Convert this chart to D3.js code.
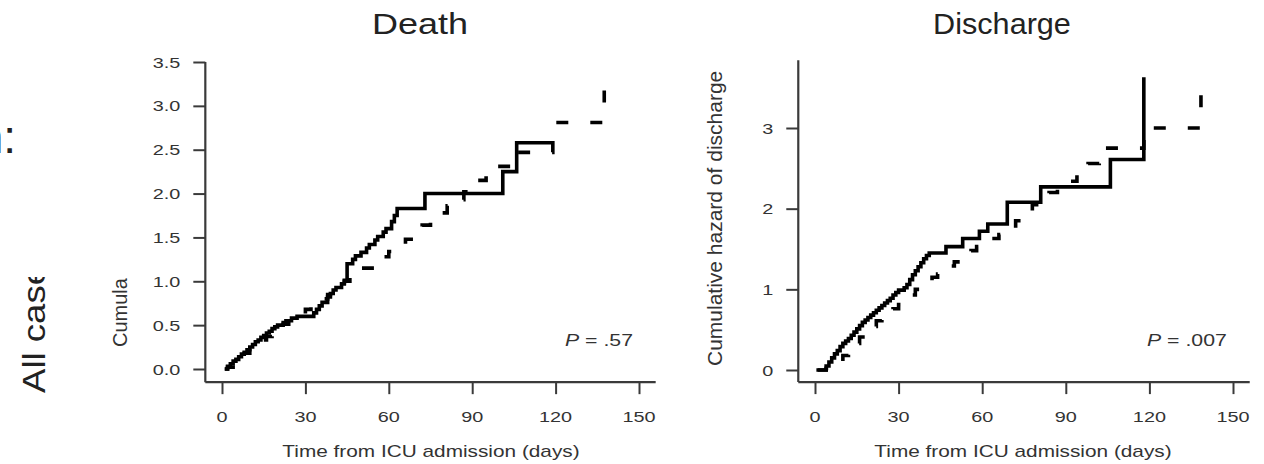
<!DOCTYPE html>
<html>
<head>
<meta charset="utf-8">
<script src="https://cdn.jsdelivr.net/npm/d3@7/dist/d3.min.js"></script>
<style>
  body { margin: 0; background: #fff; }
  svg { display: block; }
  text { font-family: "Liberation Sans", Arial, Helvetica, sans-serif; }
</style>
</head>
<body>
<svg id="chart" width="1264" height="464"></svg>
<script>
// Cumulative hazard step estimates, time in days from ICU admission.
// Death — solid group
const deathSolidTime = [1,2,3,4,5,6,7,8,9,10,11,12,13,14,15,16,17,18,19,20,22,23,25,27,33,34,35,36,38,39,40,41,43,44,45,47,48,50,52,53,55,56,58,59,61,62,63,73,101,106];
const deathSolidHaz  = [0,0.03,0.06,0.09,0.11,0.14,0.17,0.19,0.22,0.25,0.28,0.31,0.33,0.36,0.38,0.41,0.43,0.46,0.48,0.50,0.53,0.55,0.58,0.60,0.64,0.68,0.72,0.76,0.82,0.86,0.90,0.93,0.97,1.01,1.20,1.25,1.29,1.33,1.38,1.42,1.47,1.51,1.56,1.60,1.68,1.75,1.83,2.00,2.25,2.58];
const deathSolidEnd = 118.6;
// Death — dashed group
const deathDashTime = [1,2,4,6,8,10,12,14,16,18,20,22,24,26,28,30,32,34,36,38,40,42,44,46,48,51,54,57,60,63,66,69,72,75,78,81,84,87,91,95,99,103,106,119,137.5];
const deathDashHaz  = [0,0.02,0.07,0.12,0.18,0.23,0.28,0.33,0.37,0.42,0.47,0.51,0.55,0.59,0.63,0.68,0.72,0.75,0.80,0.85,0.90,0.95,1.00,1.05,1.10,1.15,1.22,1.28,1.34,1.40,1.48,1.57,1.64,1.71,1.78,1.86,1.93,2.02,2.15,2.22,2.31,2.38,2.47,2.81,3.20];
const deathDashEnd = 138;
// Discharge — solid group
const dischSolidTime = [0.5,4,5,6,7,8,9,10,11,12,13,14,15,16,17,18,19,20,21,22,23,24,25,26,27,28,29,30,32,33,34,35,36,37,38,39,40,41,47,53,59,62,69,81,106,118];
const dischSolidHaz  = [0,0.05,0.10,0.15,0.20,0.24,0.29,0.33,0.36,0.39,0.43,0.47,0.51,0.55,0.59,0.62,0.65,0.68,0.71,0.74,0.77,0.80,0.83,0.86,0.89,0.93,0.96,0.99,1.02,1.06,1.12,1.18,1.23,1.28,1.33,1.38,1.42,1.45,1.53,1.63,1.72,1.81,2.08,2.27,2.61,3.63];
const dischSolidEnd = 118;
// Discharge — dashed group
const dischDashTime = [1,4,6,8,10,12,14,16,18,20,22,24,26,28,30,32,34,36,38,40,42,44,46,48,50,52,54,56,58,60,63,66,69,72,75,78,81,84,87,90,94,98,102,118,138.5];
const dischDashHaz  = [0,0.02,0.06,0.11,0.18,0.25,0.33,0.41,0.47,0.54,0.61,0.66,0.71,0.76,0.81,0.86,0.93,1.00,1.06,1.11,1.15,1.19,1.24,1.29,1.34,1.39,1.43,1.48,1.53,1.58,1.63,1.68,1.73,1.85,1.97,2.05,2.12,2.20,2.27,2.34,2.45,2.56,2.75,3.00,3.50];
const dischDashEnd = 138.5;

// Axis ticks and labels
const xTicks = [0, 30, 60, 90, 120, 150];
const deathYTicks = [0, 0.5, 1, 1.5, 2, 2.5, 3, 3.5];
const dischYTicks = [0, 1, 2, 3];
const panelTitles = ["Death", "Discharge"];
const xAxisTitle = "Time from ICU admission (days)";
const dischYTitle = "Cumulative hazard of discharge";
const pLabels = [".57", ".007"];

const svg = d3.select("#chart");
const ink = "#000";
const axisInk = "#3a3a3a";
const textInk = "#333";

// Horizontally widened text helper
function wideText(parent, x, y, str, size, sx, anchor, fill) {
  return parent.append("text")
    .attr("transform", `translate(${x},${y}) scale(${sx},1)`)
    .attr("text-anchor", anchor || "start")
    .attr("font-size", size)
    .attr("fill", fill || textInk)
    .text(str);
}

function stepPoints(times, haz, end) {
  const pts = times.map((t, i) => [t, haz[i]]);
  pts.push([end, haz[haz.length - 1]]);
  return pts;
}

function panel(opts) {
  const g = svg.append("g");
  const x = d3.scaleLinear().domain([0, 150]).range(opts.xRange);
  const y = d3.scaleLinear().domain(opts.yDomain).range(opts.yRange);

  // L-shaped frame
  g.append("line")
    .attr("x1", x(-6)).attr("x2", x(-6))
    .attr("y1", y(opts.yTop)).attr("y2", y(-0.15))
    .attr("stroke", axisInk).attr("stroke-width", 2.2);
  g.append("line")
    .attr("x1", x(-6)).attr("x2", x(156))
    .attr("y1", y(-0.15)).attr("y2", y(-0.15))
    .attr("stroke", axisInk).attr("stroke-width", 2.2);

  // Bottom axis ticks
  const xa = g.append("g").attr("transform", `translate(0,${y(-0.15)})`)
    .call(d3.axisBottom(x).tickValues(xTicks).tickSize(12).tickPadding(0).tickFormat(""));
  xa.select(".domain").remove();
  xa.selectAll(".tick line").attr("stroke", axisInk).attr("stroke-width", 2);
  xTicks.forEach(t => wideText(g, x(t), 422, String(t), 15.5, 1.28, "middle"));

  // Left axis ticks
  const ya = g.append("g").attr("transform", `translate(${x(-6)},0)`)
    .call(d3.axisLeft(y).tickValues(opts.yTicks).tickSize(12).tickFormat(""));
  ya.select(".domain").remove();
  ya.selectAll(".tick line").attr("stroke", axisInk).attr("stroke-width", 2);
  opts.yTicks.forEach(t => wideText(g, x(-6) - 25, y(t) + 5.5, opts.yFmt(t), 15.5, 1.28, "end"));

  // Curves
  const line = d3.line().x(d => x(d[0])).y(d => y(d[1])).curve(d3.curveStepAfter);
  g.append("path").attr("d", line(opts.dash))
    .attr("fill", "none").attr("stroke", ink).attr("stroke-width", 3.6)
    .attr("stroke-dasharray", "12,22");
  g.append("path").attr("d", line(opts.solid))
    .attr("fill", "none").attr("stroke", ink).attr("stroke-width", 3.6)
    .attr("stroke-linejoin", "miter");

  // P value
  const p = g.append("text")
    .attr("transform", `translate(${opts.pX},346) scale(1.33,1)`)
    .attr("font-size", 16).attr("fill", textInk);
  p.append("tspan").attr("font-style", "italic").text("P");
  p.append("tspan").text(" = " + opts.p);

  // Titles
  wideText(g, opts.titleX, 34, opts.title, 30, opts.titleSx, "middle", "#222");
  wideText(g, opts.xTitleX, 457, xAxisTitle, 16, 1.3, "middle");
  return { g, x, y };
}

panel({
  xRange: [222, 639], yDomain: [0, 3.5], yRange: [369, 62], yTop: 3.5,
  yTicks: deathYTicks, yFmt: d3.format(".1f"),
  solid: stepPoints(deathSolidTime, deathSolidHaz, deathSolidEnd),
  dash: stepPoints(deathDashTime, deathDashHaz, deathDashEnd),
  p: pLabels[0], pX: 565, title: panelTitles[0], titleX: 420, titleSx: 1.2, xTitleX: 431
});
panel({
  xRange: [815, 1233], yDomain: [0, 3], yRange: [370, 128], yTop: 3.84,
  yTicks: dischYTicks, yFmt: d3.format("d"),
  solid: stepPoints(dischSolidTime, dischSolidHaz, dischSolidEnd),
  dash: stepPoints(dischDashTime, dischDashHaz, dischDashEnd),
  p: pLabels[1], pX: 1147, title: panelTitles[1], titleX: 1002, titleSx: 1.02, xTitleX: 1023
});

// Rotated axis titles
svg.append("text")
  .attr("transform", "translate(722,366) rotate(-90) scale(1.05,1)")
  .attr("font-size", 20).attr("fill", textInk)
  .text(dischYTitle);

// Left margin labels, cut off along the top
const clip = svg.append("defs").append("clipPath").attr("id", "leftClip");
clip.append("rect").attr("x", 0).attr("y", 277).attr("width", 140).attr("height", 187);
const lm = svg.append("g").attr("clip-path", "url(#leftClip)");
lm.append("text")
  .attr("transform", "translate(127,347) rotate(-90)")
  .attr("font-size", 20).attr("fill", textInk)
  .text("Cumula");
lm.append("text")
  .attr("transform", "translate(45,393) rotate(-90) scale(1.18,1)")
  .attr("font-size", 31).attr("fill", "#222")
  .text("All case");

// Row heading fragment at the top-left edge
svg.append("text")
  .attr("x", 16).attr("y", 153)
  .attr("text-anchor", "end")
  .attr("font-family", "Liberation Serif, Times New Roman, serif")
  .attr("font-size", 46).attr("fill", "#222")
  .text("n:");
</script>
</body>
</html>
